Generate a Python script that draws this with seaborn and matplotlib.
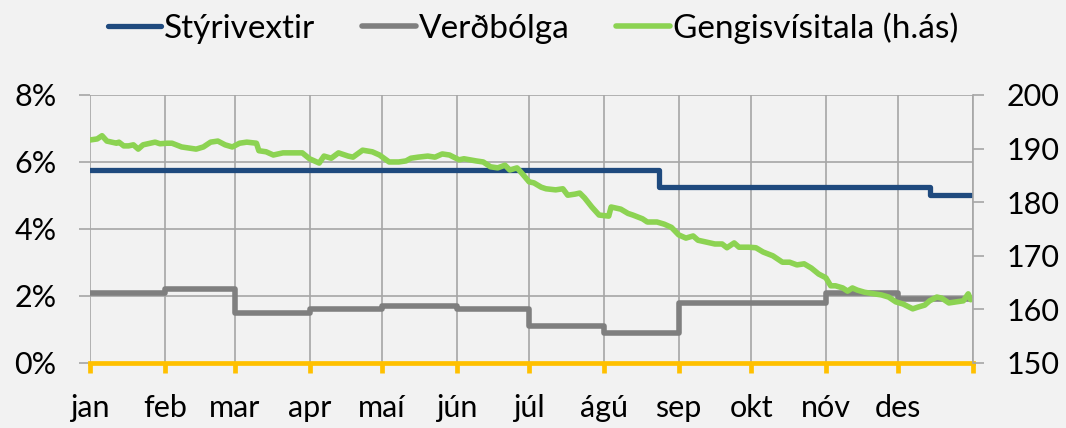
import pandas as pd
import seaborn as sns
import matplotlib.pyplot as plt

# Monthly data, 2016
months = ['jan', 'feb', 'mar', 'apr', 'maí', 'jún', 'júl', 'ágú', 'sep', 'okt', 'nóv', 'des']
inflation = [2.1, 2.2, 1.5, 1.6, 1.7, 1.6, 1.1, 0.9, 1.8, 1.8, 2.1, 1.9]

# Policy rate changes
rate_dates = ['2016-01-01', '2016-08-24', '2016-12-14', '2016-12-31']
rate_values = [5.75, 5.25, 5.0, 5.0]

# Exchange rate index (right axis): day of year / value
fx_day = [0, 3, 5, 7, 9, 11, 12, 14, 16, 18, 20, 22, 25, 27, 29, 32, 34, 38, 41, 44,
          47, 50, 53, 56, 59, 62, 65, 69, 70, 73, 76, 80, 84, 88, 91, 95, 97, 100, 103, 107,
          109, 113, 117, 120, 124, 128, 131, 133, 136, 140, 143, 146, 149, 153, 155, 160, 163, 166, 169, 172,
          174, 177, 179, 182, 184, 187, 189, 193, 196, 198, 201, 203, 205, 208, 211, 215, 216, 218, 220, 223,
          225, 229, 231, 235, 238, 241, 244, 247, 250, 252, 255, 259, 262, 264, 267, 269, 273, 276, 279, 283,
          287, 290, 293, 296, 299, 302, 305, 307, 309, 312, 314, 316, 318, 321, 325, 328, 331, 334, 337, 341,
          343, 346, 348, 351, 353, 356, 359, 362, 364, 365]
fx_value = [191.6, 191.8, 192.4, 191.4, 191.2, 191.0, 191.2, 190.5, 190.5, 190.7,
            189.9, 190.7, 191.0, 191.2, 190.9, 191.0, 191.0, 190.3, 190.1, 189.9,
            190.3, 191.2, 191.4, 190.7, 190.3, 191.0, 191.2, 191.0, 189.6, 189.4,
            188.8, 189.2, 189.2, 189.2, 188.1, 187.3, 188.6, 188.2, 189.2, 188.6,
            188.4, 189.7, 189.4, 188.8, 187.5, 187.5, 187.7, 188.2, 188.4, 188.6,
            188.4, 189.0, 188.8, 187.9, 188.1, 187.7, 187.5, 186.6, 186.4, 186.9,
            186.0, 186.4, 185.4, 183.8, 183.6, 182.8, 182.5, 182.3, 182.5, 181.3,
            181.5, 181.7, 180.8, 179.1, 177.6, 177.4, 179.1, 178.9, 178.7, 177.9,
            177.6, 176.9, 176.3, 176.3, 175.9, 175.3, 173.9, 173.3, 173.7, 172.9,
            172.6, 172.2, 172.2, 171.5, 172.4, 171.6, 171.6, 171.5, 170.7, 170.0,
            168.8, 168.8, 168.3, 168.5, 167.7, 166.6, 165.9, 164.4, 164.4, 164.0,
            163.4, 164.0, 163.6, 163.2, 162.9, 162.7, 162.3, 161.4, 161.0, 160.1,
            160.4, 160.8, 161.6, 162.3, 162.1, 161.2, 161.4, 161.6, 162.9, 161.8]

BG = '#F2F2F2'
GRID = '#A6A6A6'
sns.set_style('white', {'axes.facecolor': BG, 'figure.facecolor': BG})
plt.rcParams['font.family'] = ['Lato', 'DejaVu Sans']
plt.rcParams['text.color'] = 'black'

month_starts = pd.date_range('2016-01-01', periods=12, freq='MS')
infl_dates = list(month_starts) + [pd.Timestamp('2016-12-31')]
infl_vals = inflation + [inflation[-1]]
fx_dates = pd.Timestamp('2016-01-01') + pd.to_timedelta(fx_day, unit='D')

fig = plt.figure(figsize=(10.66, 4.28), dpi=100)
ax = fig.add_axes([0.0844, 0.1519, 0.8284, 0.6262])
ax2 = ax.twinx()

sns.lineplot(x=pd.to_datetime(rate_dates), y=rate_values, ax=ax, color='#1F4A7E', lw=3.8,
             drawstyle='steps-post', label='Stýrivextir', legend=False, solid_capstyle='round')
sns.lineplot(x=infl_dates, y=infl_vals, ax=ax, color='#7F7F7F', lw=4.0,
             drawstyle='steps-post', label='Verðbólga', legend=False, solid_capstyle='round')
sns.lineplot(x=fx_dates, y=fx_value, ax=ax2, color='#8CD352', lw=4.0,
             label='Gengisvísitala (h.ás)', legend=False, solid_capstyle='round')

ax.set_xlim(pd.Timestamp('2016-01-01'), pd.Timestamp('2017-01-01'))
ax.set_ylim(0, 8)
ax2.set_ylim(150, 200)
ax.set_yticks([0, 2, 4, 6, 8])
ax.set_yticklabels([f'{v}%' for v in [0, 2, 4, 6, 8]])
ax2.set_yticks(range(150, 201, 10))

ticks = list(month_starts) + [pd.Timestamp('2017-01-01')]
ax.set_xticks(ticks)
ax.set_xticklabels(months + [''])
ax.set_xlabel('')
ax.set_ylabel('')
ax2.set_ylabel('')

ax.set_axisbelow(True)
ax.grid(True, color=GRID, lw=1.2)
for s in ['top', 'left', 'right']:
    ax.spines[s].set_visible(False)
ax2.spines['top'].set_visible(False)
ax2.spines['left'].set_visible(False)
ax2.spines['right'].set_color(GRID)
ax2.spines['right'].set_linewidth(1.2)
ax2.spines['bottom'].set_visible(False)
ax.spines['bottom'].set_color('#FFC000')
ax.spines['bottom'].set_linewidth(3.4)
ax.spines['bottom'].set_zorder(5)

ax.tick_params(axis='x', bottom=True, direction='out', length=7, width=3.4, color='#FFC000',
               labelsize=22, labelcolor='black', pad=15)
ax.tick_params(axis='y', left=True, direction='out', length=8, width=1.2, color=GRID,
               labelsize=22, labelcolor='black', pad=16)
ax2.tick_params(axis='y', direction='out', length=8, width=1.2, color=GRID,
                labelsize=22, labelcolor='black', pad=16, left=False, right=True)

h1, l1 = ax.get_legend_handles_labels()
h2, l2 = ax2.get_legend_handles_labels()
fig.legend(h1 + h2, l1 + l2, loc='center', bbox_to_anchor=(0.5, 0.935), ncol=3,
           frameon=False, fontsize=24, handlelength=1.6, handletextpad=0.1,
           columnspacing=1.4)

fig.savefig('out.png', dpi=100, facecolor=BG)
